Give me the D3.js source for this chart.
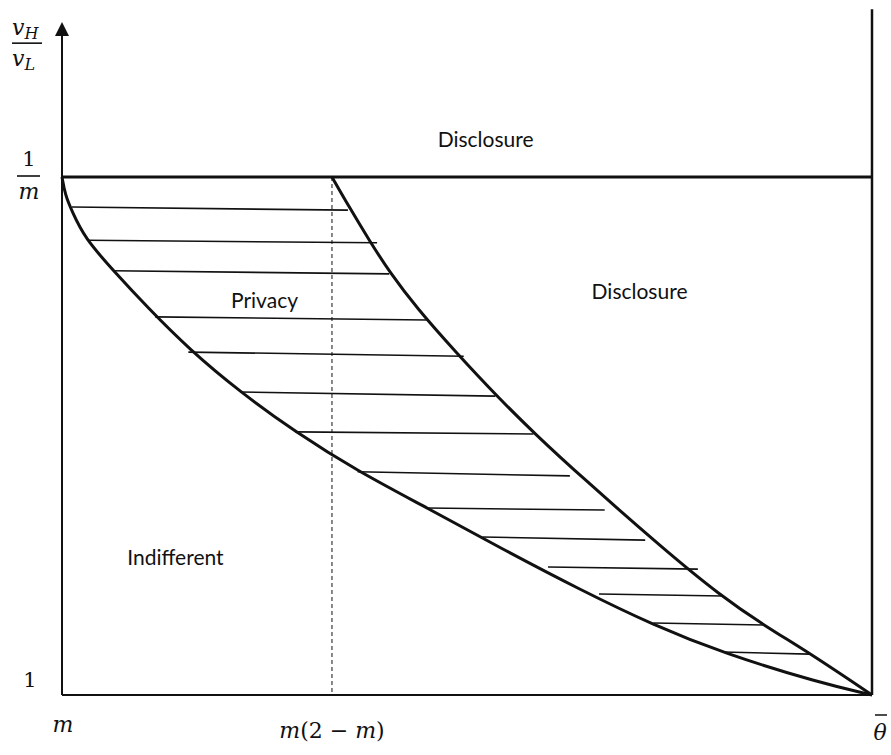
<!DOCTYPE html>
<html>
<head>
<meta charset="utf-8">
<script src="https://cdn.jsdelivr.net/npm/d3@7"></script>
<style>
  body { margin: 0; background: #fff; }
  .region { font-family: Lato, "Open Sans", sans-serif; font-size: 21px; fill: #111; }
  .math { font-family: "DejaVu Serif", "Liberation Serif", serif; font-style: italic; font-size: 22px; fill: #111; }
  .mathup { font-family: "DejaVu Serif", "Liberation Serif", serif; font-size: 21px; fill: #111; }
</style>
</head>
<body>
<div id="chart"></div>
<script>
// curve that starts at (m, 1/m) and ends at (theta bar, 1)
var lowerX = [0, 0.004, 0.012, 0.028, 0.063, 0.105, 0.158, 0.220, 0.288, 0.365, 0.451, 0.541, 0.640, 0.730, 0.816, 0.936, 1];
var lowerY = [1, 0.965, 0.935, 0.882, 0.820, 0.749, 0.666, 0.585, 0.508, 0.432, 0.361, 0.284, 0.203, 0.135, 0.081, 0.023, 0];

// curve that starts at (m(2-m), 1/m)
var upperX = [0.3333, 0.353, 0.380, 0.405, 0.438, 0.486, 0.538, 0.584, 0.640, 0.744, 0.812, 0.868, 0.923, 1];
var upperY = [1, 0.946, 0.876, 0.815, 0.747, 0.662, 0.575, 0.504, 0.423, 0.280, 0.193, 0.133, 0.081, 0];

// hatch lines in the privacy region
var hatchX0 = [0.0123, 0.031, 0.063, 0.115, 0.156, 0.220, 0.288, 0.365, 0.451, 0.519, 0.600, 0.663, 0.730, 0.816];
var hatchX1 = [0.353, 0.389, 0.404, 0.451, 0.496, 0.535, 0.582, 0.627, 0.670, 0.720, 0.785, 0.816, 0.870, 0.923];
var hatchY0 = [0.942, 0.878, 0.819, 0.730, 0.662, 0.585, 0.508, 0.431, 0.361, 0.305, 0.247, 0.195, 0.139, 0.083];
var hatchY1 = [0.936, 0.873, 0.813, 0.724, 0.654, 0.577, 0.504, 0.423, 0.357, 0.299, 0.243, 0.191, 0.135, 0.079];

var xTicks = [0, 0.3333, 1];
var regionLabels = ['Disclosure', 'Disclosure', 'Privacy', 'Indifferent'];
var regionLX = [0.523, 0.713, 0.250, 0.140];
var regionLY = [1.068, 0.775, 0.758, 0.262];

var width = 891, height = 755;
var xScale = d3.scaleLinear().domain([0, 1]).range([62, 872]);
var yScale = d3.scaleLinear().domain([0, 1]).range([695, 177]);
var yTop = 1.324, yArrow = 1.299;

var svg = d3.select('#chart').append('svg')
    .attr('width', width)
    .attr('height', height);

// axes
svg.append('line')
    .attr('x1', xScale(0)).attr('x2', xScale(0))
    .attr('y1', yScale(0)).attr('y2', yScale(yArrow) + 12)
    .attr('stroke', '#111').attr('stroke-width', 2);
svg.append('path')
    .attr('d', 'M' + xScale(0) + ',' + yScale(yArrow) + 'L' + (xScale(0) - 7) + ',' + (yScale(yArrow) + 14) +
        'L' + (xScale(0) + 7) + ',' + (yScale(yArrow) + 14) + 'Z')
    .attr('fill', '#111');
svg.append('line')
    .attr('x1', xScale(0)).attr('x2', xScale(1))
    .attr('y1', yScale(0)).attr('y2', yScale(0))
    .attr('stroke', '#111').attr('stroke-width', 2);

// right border and 1/m line
svg.append('line')
    .attr('x1', xScale(1)).attr('x2', xScale(1))
    .attr('y1', yScale(yTop)).attr('y2', yScale(0))
    .attr('stroke', '#111').attr('stroke-width', 2.5);
svg.append('line')
    .attr('x1', xScale(0)).attr('x2', xScale(1))
    .attr('y1', yScale(1)).attr('y2', yScale(1))
    .attr('stroke', '#111').attr('stroke-width', 3);

// dashed line at m(2-m)
svg.append('line')
    .attr('x1', xScale(xTicks[1])).attr('x2', xScale(xTicks[1]))
    .attr('y1', yScale(1)).attr('y2', yScale(0))
    .attr('stroke', '#111').attr('stroke-width', 1).attr('stroke-dasharray', '4,3');

// hatch
svg.append('g').selectAll('line')
    .data(hatchX0)
    .enter().append('line')
    .attr('x1', function(d) { return xScale(d); })
    .attr('x2', function(d, i) { return xScale(hatchX1[i]); })
    .attr('y1', function(d, i) { return yScale(hatchY0[i]); })
    .attr('y2', function(d, i) { return yScale(hatchY1[i]); })
    .attr('stroke', '#111').attr('stroke-width', 1.6);

// curves
var line = d3.line()
    .x(function(d) { return xScale(d[0]); })
    .y(function(d) { return yScale(d[1]); })
    .curve(d3.curveBasis);

svg.append('path')
    .attr('d', line(d3.zip(lowerX, lowerY)))
    .attr('fill', 'none').attr('stroke', '#111').attr('stroke-width', 3);
svg.append('path')
    .attr('d', line(d3.zip(upperX, upperY)))
    .attr('fill', 'none').attr('stroke', '#111').attr('stroke-width', 3);

// region labels
svg.append('g').selectAll('text')
    .data(regionLabels)
    .enter().append('text')
    .attr('class', 'region')
    .attr('x', function(d, i) { return xScale(regionLX[i]); })
    .attr('y', function(d, i) { return yScale(regionLY[i]); })
    .attr('text-anchor', 'middle')
    .attr('dominant-baseline', 'middle')
    .text(function(d) { return d; });

// x labels
var xl = svg.append('g');
xl.append('text').attr('class', 'math')
    .attr('x', xScale(xTicks[0]) + 1).attr('y', yScale(0) + 37)
    .attr('text-anchor', 'middle').text('m');
var mm = xl.append('text').attr('class', 'math')
    .attr('x', xScale(xTicks[1])).attr('y', yScale(0) + 43)
    .attr('text-anchor', 'middle').attr('font-size', 23);
mm.append('tspan').text('m');
mm.append('tspan').attr('font-style', 'normal').text('(2 − ');
mm.append('tspan').text('m');
mm.append('tspan').attr('font-style', 'normal').text(')');
xl.append('text').attr('class', 'math')
    .attr('x', xScale(xTicks[2]) + 8).attr('y', yScale(0) + 45)
    .attr('text-anchor', 'middle').attr('font-size', 25).text('θ');
xl.append('line')
    .attr('x1', xScale(xTicks[2]) + 3).attr('x2', xScale(xTicks[2]) + 15)
    .attr('y1', yScale(0) + 20).attr('y2', yScale(0) + 20)
    .attr('stroke', '#111').attr('stroke-width', 1.5);

// y labels
var yl = svg.append('g');
yl.append('text').attr('class', 'mathup')
    .attr('x', 30).attr('y', yScale(0) - 8)
    .attr('text-anchor', 'middle').text('1');
yl.append('text').attr('class', 'mathup')
    .attr('x', 29).attr('y', yScale(1) - 11)
    .attr('text-anchor', 'middle').text('1');
yl.append('line')
    .attr('x1', 17).attr('x2', 40)
    .attr('y1', yScale(1) - 1).attr('y2', yScale(1) - 1)
    .attr('stroke', '#111').attr('stroke-width', 1.6);
yl.append('text').attr('class', 'math')
    .attr('x', 29).attr('y', yScale(1) + 22)
    .attr('text-anchor', 'middle').text('m');

var fy = yScale(yTop) + 34;
var vh = yl.append('text').attr('class', 'math').attr('x', 12).attr('y', fy - 8);
vh.append('tspan').text('v');
vh.append('tspan').attr('font-size', 16).attr('dy', 4).text('H');
yl.append('line')
    .attr('x1', 12).attr('x2', 42).attr('y1', fy).attr('y2', fy)
    .attr('stroke', '#111').attr('stroke-width', 1.6);
var vl = yl.append('text').attr('class', 'math').attr('x', 12).attr('y', fy + 23);
vl.append('tspan').text('v');
vl.append('tspan').attr('font-size', 16).attr('dy', 4).text('L');
</script>
</body>
</html>
